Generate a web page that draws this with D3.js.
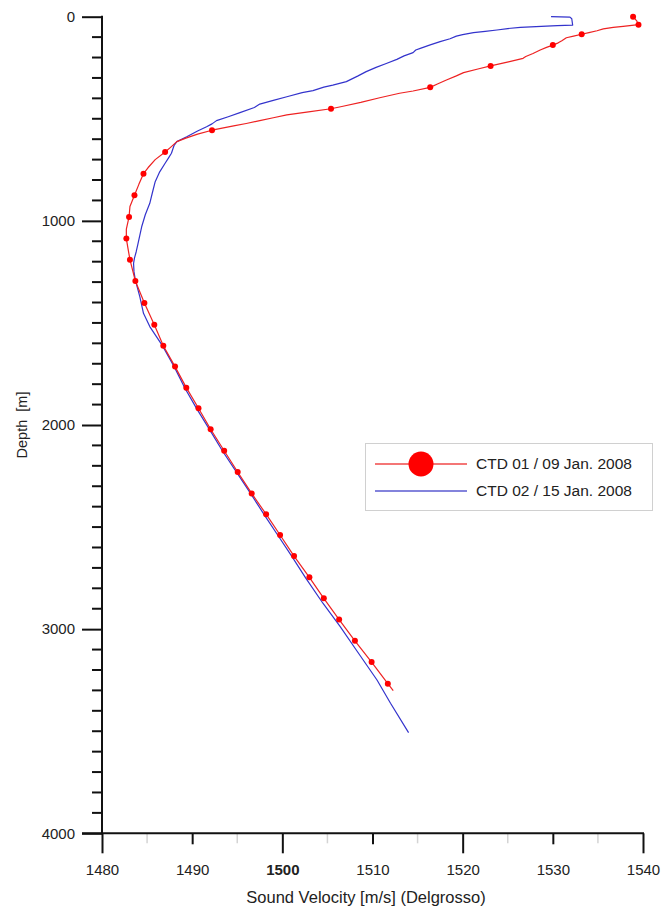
<!DOCTYPE html>
<html>
<head>
<meta charset="utf-8">
<script src="https://cdn.jsdelivr.net/npm/d3@7"></script>
<style>
  html, body { margin: 0; padding: 0; background: #fff; }
  svg { display: block; font-family: "Liberation Sans", Arial, sans-serif; }
</style>
</head>
<body>
<svg id="chart" width="664" height="907"></svg>
<script>
// Sound velocity profiles: [depth (m), velocity (m/s)]
const ctd01 = [
  [0,1538.9],[20,1539.3],[39,1539.5],[47,1537.8],[52,1536.7],[60,1535.6],[69,1534.9],[78,1534.0],
  [86,1533.2],[95,1532.3],[103,1531.5],[118,1531.0],[128,1530.6],[139,1530.0],[150,1529.3],
  [163,1528.6],[180,1527.8],[195,1527.0],[204,1526.7],[220,1525.2],[241,1523.1],[255,1521.8],
  [274,1520.1],[290,1519.3],[310,1518.2],[330,1517.2],[346,1516.4],[364,1514.5],[375,1513.0],
  [397,1510.8],[420,1508.7],[440,1506.6],[451,1505.4],[466,1502.9],[481,1500.5],[495,1499.0],
  [509,1497.5],[523,1496.0],[535,1494.6],[556,1492.2],[575,1490.6],[595,1489.3],[612,1488.3],
  [640,1487.6],[663,1487.0],[700,1485.9],[740,1485.1],[769,1484.6],[820,1484.1],[875,1483.6],
  [930,1483.1],[981,1483.0],[1040,1482.7],[1087,1482.7],[1140,1482.9],[1190,1483.1],
  [1295,1483.7],[1402,1484.7],[1509,1485.8],[1612,1486.8],[1714,1488.1],[1817,1489.35],
  [1918,1490.7],[2021,1492.05],[2126,1493.55],[2230,1495.05],[2335,1496.6],[2437,1498.2],
  [2539,1499.75],[2642,1501.3],[2746,1503.0],[2849,1504.6],[2953,1506.3],[3057,1508.05],
  [3161,1509.9],[3267,1511.7],[3301,1512.3]
];

const ctd01Markers = [
  [0,1538.9],[39,1539.5],[86,1533.2],[139,1530.0],[241,1523.1],[346,1516.4],[451,1505.4],
  [556,1492.2],[663,1487.0],[769,1484.6],[875,1483.6],[981,1483.0],[1087,1482.7],[1190,1483.1],
  [1295,1483.7],[1402,1484.7],[1509,1485.8],[1612,1486.8],[1714,1488.1],[1817,1489.35],
  [1918,1490.7],[2021,1492.05],[2126,1493.55],[2230,1495.05],[2335,1496.6],[2437,1498.2],
  [2539,1499.75],[2642,1501.3],[2746,1503.0],[2849,1504.6],[2953,1506.3],[3057,1508.05],
  [3161,1509.9],[3267,1511.7]
];

const ctd02 = [
  [0,1529.8],[2,1531.9],[10,1532.1],[41,1532.2],[44,1530.5],[46,1529.3],[52,1526.4],[58,1525.0],
  [65,1523.8],[72,1522.5],[78,1521.2],[88,1520.0],[95,1519.3],[108,1518.6],[122,1517.5],
  [138,1516.4],[155,1515.3],[163,1514.8],[176,1514.5],[192,1513.5],[209,1512.7],[228,1511.6],
  [248,1510.4],[269,1509.3],[290,1508.4],[318,1507.1],[335,1505.6],[345,1504.6],[362,1503.4],
  [372,1502.2],[392,1500.5],[410,1499.0],[428,1497.5],[445,1496.9],[470,1495.3],[490,1494.0],
  [509,1492.7],[525,1492.2],[539,1491.6],[560,1490.6],[588,1489.4],[612,1488.3],[630,1488.0],
  [669,1487.7],[690,1487.4],[718,1487.0],[760,1486.4],[808,1485.9],[860,1485.6],[914,1485.3],
  [970,1484.8],[1029,1484.4],[1070,1484.2],[1110,1484.0],[1150,1483.8],[1183,1483.6],
  [1208,1483.5],[1250,1483.55],[1290,1483.7],[1372,1484.2],[1453,1484.6],[1518,1485.3],
  [1611,1486.7],[1714,1488.0],[1820,1489.2],[1920,1490.5],[2020,1491.9],[2130,1493.4],
  [2230,1494.9],[2330,1496.4],[2440,1498.0],[2540,1499.5],[2640,1501.0],[2750,1502.6],
  [2873,1504.5],[2986,1506.4],[3102,1508.2],[3249,1510.5],[3363,1512.0],[3507,1514.0]
];

const velocityTicks = [1480, 1490, 1500, 1510, 1520, 1530, 1540];
const velocityMinorTicks = [1485, 1495, 1505, 1515, 1525, 1535];
const depthTicks = [0, 1000, 2000, 3000, 4000];
const depthMinorTicks = d3.range(100, 4000, 100).filter(d => d % 1000 !== 0);

const seriesNames = ["CTD 01 / 09 Jan. 2008", "CTD 02 / 15 Jan. 2008"];
const seriesColors = ["#ee2222", "#3333cc"];

const svg = d3.select("#chart");

const x = d3.scaleLinear().domain([1480, 1540]).range([102, 643]);
const y = d3.scaleLinear().domain([0, 4000]).range([16.7, 833.3]);

const axisColor = "#111";
const labelColor = "#222";
const fontStack = "'Liberation Sans', Arial, sans-serif";

// ---- Y axis (depth) ----
const gy = svg.append("g").attr("transform", `translate(${x(1480)},0)`);
gy.call(d3.axisLeft(y).tickValues(depthTicks).tickSize(20).tickPadding(7).tickFormat(d3.format("d")));
gy.select(".domain").remove();
gy.selectAll(".tick line").attr("stroke", axisColor).attr("stroke-width", 2);
gy.selectAll(".tick text").attr("fill", labelColor).style("font-size", "15px")
  .style("font-family", fontStack);
gy.append("g").selectAll("line").data(depthMinorTicks).join("line")
  .attr("x1", -10).attr("x2", 0).attr("y1", d => y(d)).attr("y2", d => y(d))
  .attr("stroke", axisColor).attr("stroke-width", 2);
gy.append("line").attr("x1", 0).attr("x2", 0).attr("y1", y(0) - 1).attr("y2", y(4000))
  .attr("stroke", axisColor).attr("stroke-width", 2);

// ---- X axis (velocity) ----
const gx = svg.append("g").attr("transform", `translate(0,${y(4000)})`);
gx.append("g").selectAll("line").data(velocityMinorTicks).join("line")
  .attr("x1", d => x(d)).attr("x2", d => x(d)).attr("y1", 0).attr("y2", 10)
  .attr("stroke", "#d4d4d4").attr("stroke-width", 1.5);
gx.append("g").call(
  d3.axisBottom(x).tickValues(velocityTicks).tickSize(20).tickPadding(11).tickFormat(d3.format("d"))
);
gx.selectAll(".domain").remove();
gx.selectAll(".tick line").attr("stroke", axisColor).attr("stroke-width", 2)
  .attr("y2", d => (d - 1480) % 20 === 0 ? 20 : 11);
gx.selectAll(".tick text").attr("fill", labelColor).style("font-size", "15px")
  .style("font-family", fontStack)
  .style("font-weight", d => d === 1500 ? "bold" : "normal");
gx.append("line").attr("x1", x(1480) - 20).attr("x2", x(1540) + 1).attr("y1", 0).attr("y2", 0)
  .attr("stroke", axisColor).attr("stroke-width", 2);

// ---- Axis titles ----
svg.append("text")
  .attr("transform", `translate(27,${(y(0) + y(4000)) / 2}) rotate(-90)`)
  .attr("text-anchor", "middle").attr("fill", labelColor).style("font-size", "14.5px")
  .style("white-space", "pre").attr("xml:space", "preserve")
  .text("Depth  [m]");
svg.append("text")
  .attr("x", 366).attr("y", 903)
  .attr("text-anchor", "middle").attr("fill", labelColor).style("font-size", "16.5px")
  .text("Sound Velocity [m/s] (Delgrosso)");

// ---- Profiles ----
const line = d3.line().x(d => x(d[1])).y(d => y(d[0]));

svg.append("path").datum(ctd02)
  .attr("fill", "none").attr("stroke", seriesColors[1]).attr("stroke-width", 1.2)
  .attr("stroke-linejoin", "round").attr("d", line);

svg.append("path").datum(ctd01)
  .attr("fill", "none").attr("stroke", seriesColors[0]).attr("stroke-width", 1.2)
  .attr("stroke-linejoin", "round").attr("d", line);

svg.append("g").selectAll("circle").data(ctd01Markers).join("circle")
  .attr("cx", d => x(d[1])).attr("cy", d => y(d[0])).attr("r", 3)
  .attr("fill", "#ff0000");

// ---- Legend ----
const lg = svg.append("g").attr("transform", "translate(365,443)");
lg.append("rect").attr("x", 0.5).attr("y", 0.5).attr("width", 287).attr("height", 67)
  .attr("fill", "#fff").attr("stroke", "#d0d0d0").attr("stroke-width", 1);
const rows = [21, 48];
seriesNames.forEach((name, i) => {
  lg.append("line").attr("x1", 10).attr("x2", 102).attr("y1", rows[i]).attr("y2", rows[i])
    .attr("stroke", i === 0 ? "#f04848" : "#5a5ad0").attr("stroke-width", 1.3);
  if (i === 0) {
    lg.append("circle").attr("cx", 56).attr("cy", rows[i]).attr("r", 12.5).attr("fill", "#ff0000");
  }
  lg.append("text").attr("x", 111).attr("y", rows[i]).attr("dy", "0.35em")
    .attr("fill", labelColor).style("font-size", "15.5px").text(name);
});
</script>
</body>
</html>
